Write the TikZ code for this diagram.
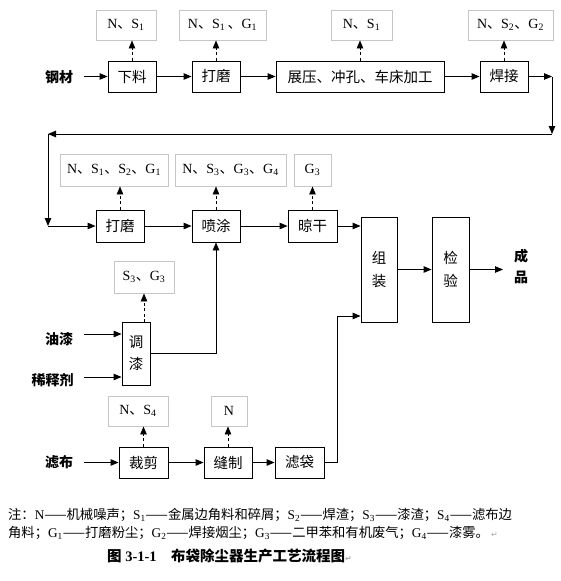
\documentclass[tikz,border=0pt]{standalone}
\usepackage{fontspec}
\setmainfont{Liberation Serif}
\newfontfamily\cjk{Noto Sans CJK SC}
\newfontfamily\symf{DejaVu Sans}
\usetikzlibrary{arrows.meta}
\newcommand\C[1]{{\cjk #1}}
\newcommand\sub[1]{\textsubscript{#1}}
\newcommand\pmark{{\symf\color{gray!70}\fontsize{8}{8}\selectfont ↵}}
\begin{document}
\begin{tikzpicture}[x=1pt,y=-1pt,
  pbox/.style={draw,line width=0.9pt,inner sep=0pt,font=\cjk\fontsize{14.5}{17}\selectfont,align=center},
  gbox/.style={draw=gray!45,line width=0.9pt,inner sep=0pt,font=\fontsize{14}{16}\selectfont},
  arr/.style={-{Triangle[length=8pt,width=6.5pt]},line width=0.9pt},
  darr/.style={arr,dash pattern=on 3pt off 2.5pt},
  lbl/.style={font=\cjk\bfseries\fontsize{14}{17}\selectfont,inner sep=0pt,align=center},
  note/.style={font=\fontsize{13.3}{17}\selectfont,inner sep=0pt,anchor=west}]
\useasboundingbox[fill=white] (0,0) rectangle (560,581);

% ---------- row 1 ----------
\node[lbl] (gc) at (59,77) {钢材};
\coordinate (gcin) at (84,76.5);
\node[pbox,minimum width=48pt,minimum height=31pt] (xl) at (132,76.5) {下料};
\node[pbox,minimum width=48pt,minimum height=31pt] (dm1) at (216,76.5) {打磨};
\node[pbox,minimum width=168pt,minimum height=31pt] (zy) at (360,76.5) {展压、冲孔、车床加工};
\node[pbox,minimum width=48pt,minimum height=31pt] (hj) at (504,76.5) {焊接};
\node[gbox,minimum width=60pt,minimum height=30pt] (g1) at (126,25) {N\C{、}S\sub{1}};
\node[gbox,minimum width=87pt,minimum height=30pt] (g2) at (222.5,25) {N\C{、}S\sub{1}\,\C{、}G\sub{1}};
\node[gbox,minimum width=61pt,minimum height=30pt] (g3) at (361.5,25) {N\C{、}S\sub{1}};
\node[gbox,minimum width=85pt,minimum height=30pt] (g4) at (510.5,25) {N\C{、}S\sub{2}\C{、}G\sub{2}};
\draw[arr] (gcin) -- (xl);
\draw[arr] (xl) -- (dm1);
\draw[arr] (dm1) -- (zy);
\draw[arr] (zy) -- (hj);
\draw[darr] (xl.north) -- (xl.north |- g1.south);
\draw[darr] (dm1.north) -- (dm1.north |- g2.south);
\draw[darr] (zy.north) -- (zy.north |- g3.south);
\draw[darr] (hj.north) -- (hj.north |- g4.south);

% ---------- return loop ----------
\coordinate (r1) at (552,76.5);
\coordinate (r2) at (552,134);
\coordinate (r3) at (48,134);
\coordinate (r4) at (48,226);
\draw[arr] (hj) -- (r1);
\draw[arr] (r1) -- (r2);
\draw[arr] (r2) -- (r3);
\draw[arr] (r3) -- (r4);

% ---------- row 2 ----------
\node[pbox,minimum width=48pt,minimum height=32pt] (dm2) at (120,226) {打磨};
\node[pbox,minimum width=48pt,minimum height=32pt] (pt) at (216,226) {喷涂};
\node[pbox,minimum width=49pt,minimum height=32pt] (lg) at (312.5,226) {晾干};
\node[gbox,minimum width=108pt,minimum height=32pt] (g5) at (114,170) {N\C{、}S\sub{1}\C{、}S\sub{2}\C{、}G\sub{1}};
\node[gbox,minimum width=111pt,minimum height=32pt] (g6) at (230.5,170) {N\C{、}S\sub{3}\C{、}G\sub{3}\C{、}G\sub{4}};
\node[gbox,minimum width=37pt,minimum height=32pt] (g7) at (312.5,170) {G\sub{3}};
\node[pbox,minimum width=36pt,minimum height=105pt] (zz) at (379,269.5) {组\\[6pt]装};
\node[pbox,minimum width=37pt,minimum height=105pt] (jy) at (450.5,269.5) {检\\[6pt]验};
\node[lbl] (cp) at (521,267) {成\\[4pt]品};
\coordinate (cpin) at (503,269.5);
\draw[arr] (r4) -- (dm2);
\draw[arr] (dm2) -- (pt);
\draw[arr] (pt) -- (lg);
\draw[arr] (lg) -- (lg -| zz.west);
\draw[arr] (zz) -- (jy);
\draw[arr] (jy) -- (cpin);
\draw[darr] (dm2.north) -- (dm2.north |- g5.south);
\draw[darr] (pt.north) -- (pt.north |- g6.south);
\draw[darr] (lg.north) -- (lg.north |- g7.south);

% ---------- paint mixing ----------
\node[pbox,minimum width=28pt,minimum height=63pt] (tq) at (136,353.5) {调\\[5pt]漆};
\node[gbox,minimum width=60pt,minimum height=32pt] (g8) at (144,277) {S\sub{3}\C{、}G\sub{3}};
\coordinate (tqtop) at (144,322);
\draw[darr] (tqtop) -- (tqtop |- g8.south);
\node[lbl] (yq) at (59,339) {油漆};
\node[lbl] (xsj) at (52.5,380) {稀释剂};
\coordinate (yqin) at (84,334);
\coordinate (xsjin) at (84,377);
\draw[arr] (yqin) -- (yqin -| tq.west);
\draw[arr] (xsjin) -- (xsjin -| tq.west);
\draw[arr] (tq.east) -| (pt.south);

% ---------- row 3 ----------
\node[lbl] (lb) at (59,462) {滤布};
\coordinate (lbin) at (84,462.5);
\node[pbox,minimum width=49pt,minimum height=31pt] (cj) at (143.5,462.5) {裁剪};
\node[pbox,minimum width=48pt,minimum height=31pt] (fz) at (228,462.5) {缝制};
\node[pbox,minimum width=49pt,minimum height=31pt] (ld) at (299.5,462.5) {滤袋};
\node[gbox,minimum width=60pt,minimum height=30pt] (g9) at (138,411) {N\C{、}S\sub{4}};
\node[gbox,minimum width=36pt,minimum height=30pt] (g10) at (229,411) {N};
\draw[arr] (lbin) -- (cj);
\draw[arr] (cj) -- (fz);
\draw[arr] (fz) -- (ld);
\draw[darr] (cj.north) -- (cj.north |- g9.south);
\draw[darr] (fz.north) -- (fz.north |- g10.south);
\coordinate (c1) at (337,316);
\draw[arr] (ld.east) -| (c1) -- (c1 -| zz.west);

% ---------- notes ----------
\node[note] (n1) at (8,515) {\C{注：}N\C{——机械噪声；}S\sub{1}\C{——金属边角料和碎屑；}S\sub{2}\C{——焊渣；}S\sub{3}\C{——漆渣；}S\sub{4}\C{——滤布边}};
\node[note] (n2) at (8,533) {\C{角料；}G\sub{1}\C{——打磨粉尘；}G\sub{2}\C{——焊接烟尘；}G\sub{3}\C{——二甲苯和有机废气；}G\sub{4}\C{——漆雾。}\,\pmark};
\node[inner sep=0pt,anchor=west,font=\bfseries\fontsize{14.5}{17}\selectfont] (cap) at (107,556) {\C{\bfseries 图} 3-1-1\quad\C{\bfseries 布袋除尘器生产工艺流程图}\pmark};
\end{tikzpicture}
\end{document}
